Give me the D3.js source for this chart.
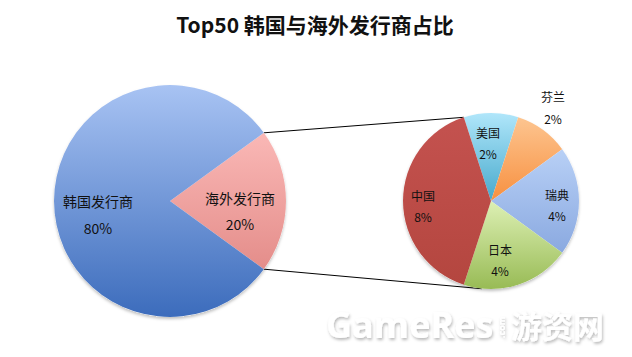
<!DOCTYPE html>
<html><head><meta charset="utf-8">
<script src="https://cdn.jsdelivr.net/npm/d3@7"></script>
<style>body{margin:0;background:#fff;}svg{display:block;}</style>
</head><body>
<svg id="c" width="632" height="357"></svg>
<script>
const title = "Top50 韩国与海外发行商占比";
const mainCats = ["海外发行商", "韩国发行商"];
const mainVals = [20, 80];
const subCats = ["美国", "芬兰", "瑞典", "日本", "中国"];
const subVals = [2, 2, 4, 4, 8];
const mainColors = [["#fab8b6", "#e48d8a"], ["#a8c3f3", "#3c6cbc"]];
const subColors = [["#b0e6fa", "#46a9cc"], ["#fdc590", "#f79040"], ["#b8d0f6", "#8aa9e0"], ["#ddf0b4", "#98bb55"], ["#c4524f", "#b4463f"]];

const svg = d3.select("#c");
const defs = svg.append("defs");
const f = defs.append("filter").attr("id", "sh").attr("x", "-10%").attr("y", "-10%").attr("width", "130%").attr("height", "140%");
f.append("feDropShadow").attr("dx", 1).attr("dy", 2).attr("stdDeviation", 1.6).attr("flood-color", "#000").attr("flood-opacity", 0.28);
const fp = defs.append("filter").attr("id", "psh").attr("x", "-10%").attr("y", "-10%").attr("width", "120%").attr("height", "125%");
fp.append("feDropShadow").attr("dx", 0).attr("dy", 2).attr("stdDeviation", 1.5).attr("flood-color", "#000").attr("flood-opacity", 0.25);

function grad(id, c) {
  const g = defs.append("linearGradient").attr("id", id).attr("x1", 0).attr("y1", 0).attr("x2", 0).attr("y2", 1);
  g.append("stop").attr("offset", "0%").attr("stop-color", c[0]);
  g.append("stop").attr("offset", "100%").attr("stop-color", c[1]);
}
mainColors.forEach((c, i) => grad("mg" + i, c));
subColors.forEach((c, i) => grad("sg" + i, c));

svg.append("text").attr("x", 315).attr("y", 33).attr("text-anchor", "middle")
  .attr("font-family", "'Noto Sans CJK SC', sans-serif").attr("font-weight", "bold")
  .attr("font-size", 21).attr("fill", "#111").text(title);

// main pie
const mcx = 170, mcy = 201, mr = 116;
const mStart = Math.PI * 0.3;
const mainPie = d3.pie().sort(null).startAngle(mStart).endAngle(mStart + 2 * Math.PI)(mainVals);
const arcM = d3.arc().innerRadius(0).outerRadius(mr);
const gM = svg.append("g").attr("transform", `translate(${mcx},${mcy})`);
gM.append("circle").attr("r", mr).attr("fill", "#fff").attr("filter", "url(#psh)");
gM.selectAll("path").data(mainPie).join("path").attr("d", arcM)
  .attr("fill", (d, i) => "url(#mg" + i + ")");

// sub pie
const scx = 491, scy = 201, sr = 88;
const sStart = -Math.PI / 10;
const subPie = d3.pie().sort(null).startAngle(sStart).endAngle(sStart + 2 * Math.PI)(subVals);
const arcS = d3.arc().innerRadius(0).outerRadius(sr);
const gS = svg.append("g").attr("transform", `translate(${scx},${scy})`);

// connector lines
const pt = (cx, cy, r, a) => [cx + r * Math.sin(a), cy - r * Math.cos(a)];
const m0 = pt(mcx, mcy, mr, mainPie[0].startAngle), m1 = pt(mcx, mcy, mr, mainPie[0].endAngle);
const s0 = pt(scx, scy, sr, subPie[0].startAngle), s1 = pt(scx, scy, sr, subPie[subPie.length - 1].startAngle);
svg.insert("line", "g").attr("x1", m0[0]).attr("y1", m0[1]).attr("x2", s0[0]).attr("y2", s0[1]).attr("stroke", "#000").attr("stroke-width", 1);
svg.insert("line", "g").attr("x1", m1[0]).attr("y1", m1[1]).attr("x2", s1[0] + 18).attr("y2", s1[1] + 4).attr("stroke", "#000").attr("stroke-width", 1);

gS.append("circle").attr("r", sr).attr("fill", "#fff").attr("filter", "url(#psh)");
gS.selectAll("path").data(subPie).join("path").attr("d", arcS)
  .attr("fill", (d, i) => "url(#sg" + i + ")");

const lab = (x, y, t, fs) => svg.append("text").attr("x", x).attr("y", y).attr("text-anchor", "middle")
  .attr("font-family", "'Noto Sans CJK SC', sans-serif").attr("font-size", fs).attr("fill", "#111").text(t);

// main labels
const mainLabelPos = [[240, 204, 230], [98, 207, 234]];
mainPie.forEach((d, i) => {
  const p = mainLabelPos[i];
  lab(p[0], p[1], mainCats[i], 14);
  lab(p[0], p[2], Math.round(d.value) + "%", 14);
});
// sub labels
const subLabelPos = [[488, 138, 159], [553, 102, 124], [557, 200, 221], [500, 255, 276], [423, 201, 222]];
subPie.forEach((d, i) => {
  const p = subLabelPos[i];
  lab(p[0], p[1], subCats[i], 12);
  lab(p[0], p[2], d.value + "%", 12);
});

// watermark
const wm = svg.append("g").attr("filter", "url(#sh)").attr("fill", "#fff")
  .attr("font-family", "'Open Sans', 'Noto Sans CJK SC', sans-serif").attr("font-weight", "bold");
wm.append("text").attr("x", 326).attr("y", 338).attr("font-size", 36).text("GameRes");
wm.append("text").attr("transform", "translate(505,338) rotate(-90)").attr("font-size", 9).text(".com");
wm.append("text").attr("x", 511).attr("y", 338).attr("font-size", 31).attr("font-family", "'Noto Sans CJK SC', sans-serif").text("游资网");
</script>
</body></html>
